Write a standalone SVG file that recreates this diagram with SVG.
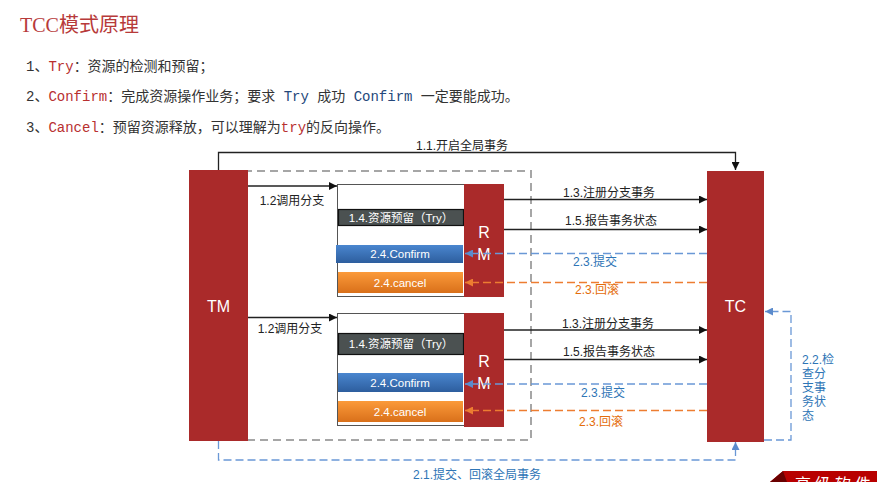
<svg xmlns="http://www.w3.org/2000/svg" width="877" height="482" viewBox="0 0 877 482">
<defs>
<style>
.cn{font-family:"Liberation Sans","Noto Sans CJK SC",sans-serif}
.mono{font-family:"Liberation Mono","Noto Sans CJK SC",monospace}
.lst{font-size:14px;fill:#333}
.kw{fill:#b83030}
.kb{fill:#24477a}
.red{fill:#aa2a2a}
.wt{fill:#fff;font-size:16px;text-anchor:middle}
.bar{fill:#fff;font-size:11.5px;text-anchor:middle}
.lb{font-size:12px;fill:#222;text-anchor:middle}
.lbb{font-size:12px;fill:#2e75b6;text-anchor:middle}
.lbo{font-size:12px;fill:#e46c0a;text-anchor:middle}
.solid{stroke:#222;stroke-width:1.3;fill:none}
.dblue{stroke:#6a98d6;stroke-width:1.3;fill:none;stroke-dasharray:8 4}
.dorg{stroke:#ed7d31;stroke-width:1.3;fill:none;stroke-dasharray:8 4}
</style>
<marker id="ak" viewBox="0 0 10 10" refX="10" refY="5" markerWidth="8" markerHeight="8" orient="auto" markerUnits="userSpaceOnUse"><path d="M0,0 L10,5 L0,10 z" fill="#111"/></marker>
<marker id="ab" viewBox="0 0 10 10" refX="10" refY="5" markerWidth="8" markerHeight="8" orient="auto" markerUnits="userSpaceOnUse"><path d="M0,0 L10,5 L0,10 z" fill="#5b8bcc"/></marker>
<marker id="ao" viewBox="0 0 10 10" refX="10" refY="5" markerWidth="8" markerHeight="8" orient="auto" markerUnits="userSpaceOnUse"><path d="M0,0 L10,5 L0,10 z" fill="#ed7d31"/></marker>
<linearGradient id="gb" x1="0" y1="0" x2="0" y2="1"><stop offset="0" stop-color="#4a86cf"/><stop offset="1" stop-color="#2d5e9e"/></linearGradient>
<linearGradient id="go" x1="0" y1="0" x2="0" y2="1"><stop offset="0" stop-color="#fb9a3a"/><stop offset="1" stop-color="#d9701a"/></linearGradient>
</defs>
<rect width="877" height="482" fill="#fff"/>

<g id="title">
<text x="20" y="32" font-family="'Liberation Serif','Noto Sans CJK SC',serif" font-size="20" fill="#b73a3a">TCC模式原理</text>
</g>
<g id="list" class="mono lst">
<text x="26" y="71">1、<tspan class="kw">Try</tspan>：资源的检测和预留；</text>
<text x="26" y="101">2、<tspan class="kw">Confirm</tspan>：完成资源操作业务；要求 <tspan class="kb">Try</tspan> 成功 <tspan class="kb">Confirm</tspan> 一定要能成功。</text>
<text x="26" y="132">3、<tspan class="kw">Cancel</tspan>：预留资源释放，可以理解为<tspan class="kw">try</tspan>的反向操作。</text>
</g>

<g id="boundary">
<rect x="205" y="171" width="326" height="269" fill="none" stroke="#a6a6a6" stroke-width="2" stroke-dasharray="8 5"/>
</g>

<g id="TM">
<rect class="red" x="189" y="170" width="59" height="271"/>
<text class="cn wt" x="218.5" y="312">TM</text>
</g>
<g id="TC">
<rect class="red" x="707" y="171" width="57" height="271"/>
<text class="cn wt" x="735.5" y="312">TC</text>
</g>

<g id="branch1">
<rect x="337.5" y="184.5" width="127" height="112" fill="#fff" stroke="#555" stroke-width="1"/>
<rect x="338.5" y="209.5" width="125" height="16" fill="#4b5151" stroke="#111" stroke-width="1.2"/>
<text class="cn bar" x="401" y="222">1.4.资源预留（Try）</text>
<rect x="336" y="245" width="127" height="18" fill="url(#gb)"/>
<text class="cn bar" x="400" y="258">2.4.Confirm</text>
<rect x="338" y="272" width="125" height="21" fill="url(#go)"/>
<text class="cn bar" x="400" y="287">2.4.cancel</text>
<rect class="red" x="464" y="184" width="40" height="113"/>
<text class="cn wt" x="484" y="238">R</text>
<text class="cn wt" x="484" y="260">M</text>
</g>

<g id="branch2">
<rect x="337.5" y="313.5" width="127" height="112" fill="#fff" stroke="#555" stroke-width="1"/>
<rect x="338.5" y="333.5" width="125" height="21" fill="#4b5151" stroke="#111" stroke-width="1.2"/>
<text class="cn bar" x="401" y="348">1.4.资源预留（Try）</text>
<rect x="338" y="373" width="125" height="19" fill="url(#gb)"/>
<text class="cn bar" x="400" y="387">2.4.Confirm</text>
<rect x="338" y="401" width="125" height="21" fill="url(#go)"/>
<text class="cn bar" x="400" y="416">2.4.cancel</text>
<rect class="red" x="464" y="313" width="40" height="114"/>
<text class="cn wt" x="484" y="367">R</text>
<text class="cn wt" x="484" y="389">M</text>
</g>

<g id="connectors">
<path class="solid" d="M218.5,170 V152.5 H735.5 V170" marker-end="url(#ak)"/>
<text class="cn lb" x="462" y="150">1.1.开启全局事务</text>

<path class="solid" d="M248,186 H337" marker-end="url(#ak)"/>
<text class="cn lb" x="292" y="205">1.2调用分支</text>
<path class="solid" d="M248,317.5 H337" marker-end="url(#ak)"/>
<text class="cn lb" x="290" y="333">1.2调用分支</text>

<path class="solid" d="M504,199.5 H707" marker-end="url(#ak)"/>
<text class="cn lb" x="609" y="197">1.3.注册分支事务</text>
<path class="solid" d="M504,229.5 H707" marker-end="url(#ak)"/>
<text class="cn lb" x="611" y="225">1.5.报告事务状态</text>
<path class="dblue" d="M707,253.5 H465" marker-end="url(#ab)"/>
<text class="cn lbb" x="595" y="266">2.3.提交</text>
<path class="dorg" d="M707,282.5 H465" marker-end="url(#ao)"/>
<text class="cn lbo" x="597" y="294">2.3.回滚</text>

<path class="solid" d="M504,330 H707" marker-end="url(#ak)"/>
<text class="cn lb" x="608" y="328">1.3.注册分支事务</text>
<path class="solid" d="M504,359.5 H707" marker-end="url(#ak)"/>
<text class="cn lb" x="609" y="356">1.5.报告事务状态</text>
<path class="dblue" d="M707,384 H465" marker-end="url(#ab)"/>
<text class="cn lbb" x="603" y="397">2.3.提交</text>
<path class="dorg" d="M707,410.5 H465" marker-end="url(#ao)"/>
<text class="cn lbo" x="601" y="426">2.3.回滚</text>

<path class="dblue" d="M218.5,441 V460 H735.5 V442" marker-end="url(#ab)"/>
<text class="cn lbb" x="477" y="479">2.1.提交、回滚全局事务</text>

<path class="dblue" d="M764,440 H791 V311.5 H765" marker-end="url(#ab)"/>
<text class="cn lbb" style="text-anchor:start" x="802">
<tspan x="802" y="364">2.2.检</tspan>
<tspan x="802" y="378">查分</tspan>
<tspan x="802" y="392">支事</tspan>
<tspan x="802" y="406">务状</tspan>
<tspan x="802" y="420">态</tspan>
</text>
</g>

<g id="banner">
<polygon points="770,482 783,471 877,471 877,482" fill="#b80000"/>
<polygon points="770,482 783,471 787,482" fill="#6a0000"/>
<text x="795" y="490" font-family="'Noto Sans CJK SC',sans-serif" font-size="16" fill="#fff" letter-spacing="4">高级软件人</text>
</g>
</svg>
